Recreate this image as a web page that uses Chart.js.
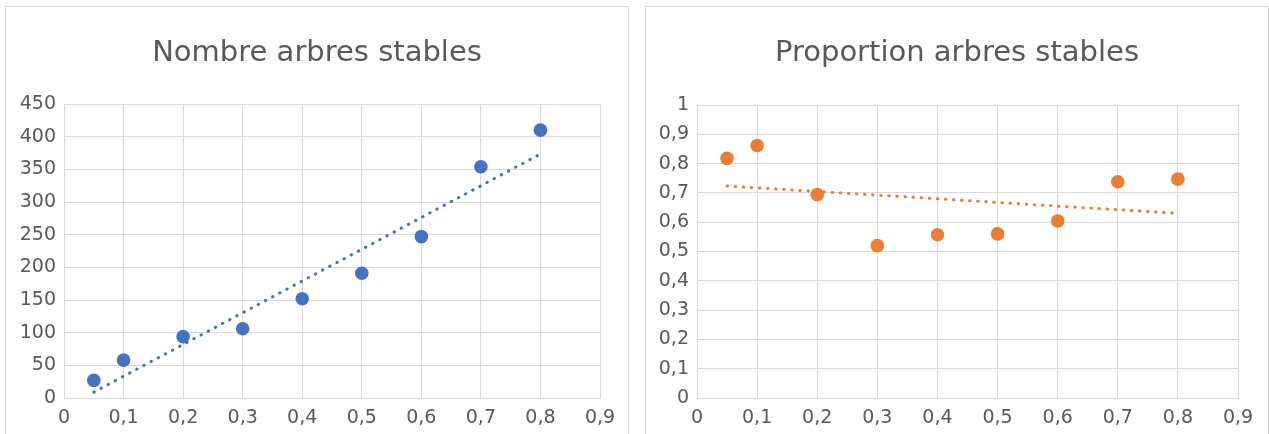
<!DOCTYPE html>
<html>
<head>
<meta charset="utf-8">
<script src="https://cdn.jsdelivr.net/npm/chart.js@4.4.1/dist/chart.umd.min.js"></script>
<style>
    html, body { margin: 0; padding: 0; background: #fff; overflow: hidden; }
    .panel { position: absolute; top: 6px; width: 622px; height: 440px; border: 1px solid #d9d9d9; }
    #panelLeft { left: 5px; }
    #panelRight { left: 645px; }
</style>
</head>
<body>
<div class="panel" id="panelLeft"><canvas id="chartCount"></canvas></div>
<div class="panel" id="panelRight"><canvas id="chartShare"></canvas></div>
<script>
// ---------------------------------------------------------------------------
// DATA
// ---------------------------------------------------------------------------

const X_VALUES = [0.05, 0.1, 0.2, 0.3, 0.4, 0.5, 0.6, 0.7, 0.8]

const COUNT_TITLE = 'Nombre arbres stables'
const COUNT_VALUES = [27, 58, 94, 106, 152, 191, 247, 354, 410]
const COUNT_TREND_X = [0.05, 0.8]
const COUNT_TREND_Y = [9, 373.5]

const SHARE_TITLE = 'Proportion arbres stables'
const SHARE_VALUES = [0.818, 0.862, 0.694, 0.520, 0.557, 0.560, 0.604, 0.738, 0.747]
const SHARE_TREND_X = [0.05, 0.8]
const SHARE_TREND_Y = [0.7235, 0.630]

const X_TICKS = [0, 0.1, 0.2, 0.3, 0.4, 0.5, 0.6, 0.7, 0.8, 0.9]
const COUNT_TICKS = [0, 50, 100, 150, 200, 250, 300, 350, 400, 450]
const SHARE_TICKS = [0, 0.1, 0.2, 0.3, 0.4, 0.5, 0.6, 0.7, 0.8, 0.9, 1]

// ---------------------------------------------------------------------------
// STYLE
// ---------------------------------------------------------------------------

const FONT = "'DejaVu Sans', sans-serif"
const TEXT = '#595959'
const GRID = '#d9d9d9'

// ---------------------------------------------------------------------------
// HELPERS
// ---------------------------------------------------------------------------

function toPoints(xs, ys) {
    return xs.map((x, i) => ({ x, y: ys[i] }))
}

// excel in french: decimal comma
function commaTick(v) {
    return String(Math.round(v * 10) / 10).replace('.', ',')
}

// the right padding pushes the title off-centre, stretch its box back over the whole panel
const centreTitle = {
    id: 'centreTitle',
    afterLayout(chart) {
        if (!chart.titleBlock) return
        chart.titleBlock.left = 0
        chart.titleBlock.right = chart.width
    },
}

function buildChart(canvasId, cfg) {
    const ticksX = cfg.xTicks
    const ticksY = cfg.yTicks
    return new Chart(document.getElementById(canvasId), {
        type: 'scatter',
        data: {
            datasets: [
                {
                    data: toPoints(cfg.xs, cfg.ys),
                    backgroundColor: cfg.color,
                    borderWidth: 0,
                    pointRadius: 6.8,
                    pointHoverRadius: 6.8,
                    order: 1,
                },
                {
                    type: 'line',
                    data: toPoints(cfg.trendX, cfg.trendY),
                    borderColor: cfg.color,
                    borderWidth: 3,
                    borderDash: [0.5, 7.6],
                    borderCapStyle: 'round',
                    pointRadius: 0,
                    fill: false,
                    order: 2,
                },
            ],
        },
        options: {
            responsive: true,
            maintainAspectRatio: false,
            animation: false,
            layout: { padding: { left: 0, right: cfg.padRight, top: 0, bottom: 0 } },
            plugins: {
                legend: { display: false },
                tooltip: { enabled: false },
                title: {
                    display: true,
                    text: cfg.title,
                    color: TEXT,
                    font: { family: FONT, size: 29, weight: 'normal' },
                    padding: { top: 29, bottom: cfg.titleBottom },
                },
            },
            scales: {
                x: {
                    type: 'linear',
                    min: ticksX[0],
                    max: ticksX[ticksX.length - 1],
                    afterBuildTicks: s => { s.ticks = ticksX.map(v => ({ value: v })) },
                    afterFit: s => { s.height = 49 },
                    ticks: {
                        color: TEXT,
                        font: { family: FONT, size: 19 },
                        padding: 9,
                        callback: commaTick,
                        maxRotation: 0,
                        autoSkip: false,
                    },
                    grid: { color: GRID, lineWidth: 1, drawTicks: false },
                    border: { color: GRID, width: 1 },
                },
                y: {
                    type: 'linear',
                    min: ticksY[0],
                    max: ticksY[ticksY.length - 1],
                    afterBuildTicks: s => { s.ticks = ticksY.map(v => ({ value: v })) },
                    afterFit: s => { s.width = cfg.axisWidth },
                    ticks: {
                        color: TEXT,
                        font: { family: FONT, size: 19 },
                        padding: 8,
                        callback: commaTick,
                        autoSkip: false,
                    },
                    grid: { color: GRID, lineWidth: 1, drawTicks: false },
                    border: { color: GRID, width: 1 },
                },
            },
        },
        plugins: [centreTitle],
    })
}

// ---------------------------------------------------------------------------
// RENDER
// ---------------------------------------------------------------------------

buildChart('chartCount', {
    title: COUNT_TITLE,
    xs: X_VALUES,
    ys: COUNT_VALUES,
    trendX: COUNT_TREND_X,
    trendY: COUNT_TREND_Y,
    xTicks: X_TICKS,
    yTicks: COUNT_TICKS,
    color: '#4472C4',
    axisWidth: 58,
    padRight: 28,
    titleBottom: 33.2,
})

buildChart('chartShare', {
    title: SHARE_TITLE,
    xs: X_VALUES,
    ys: SHARE_VALUES,
    trendX: SHARE_TREND_X,
    trendY: SHARE_TREND_Y,
    xTicks: X_TICKS,
    yTicks: SHARE_TICKS,
    color: '#ED7D31',
    axisWidth: 51,
    padRight: 30,
    titleBottom: 34.2,
})
</script>
</body>
</html>
